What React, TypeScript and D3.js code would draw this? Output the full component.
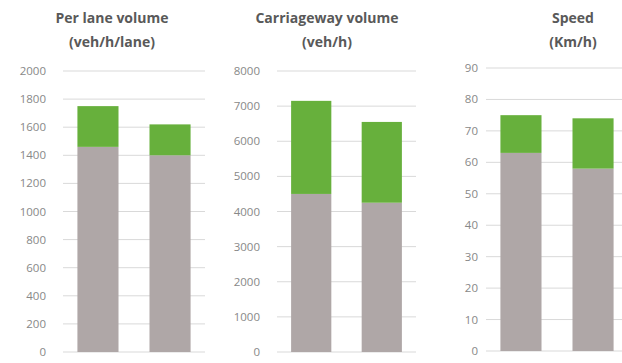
import React from "react";
import * as d3 from "d3";

const categories = ["A", "B"];
const laneBase = [1460, 1400];
const laneTop = [1750, 1620];
const cwBase = [4500, 4250];
const cwTop = [7150, 6550];
const speedBase = [63, 58];
const speedTop = [75, 74];
const laneTicks = [0, 200, 400, 600, 800, 1000, 1200, 1400, 1600, 1800, 2000];
const cwTicks = [0, 1000, 2000, 3000, 4000, 5000, 6000, 7000, 8000];
const speedTicks = [0, 10, 20, 30, 40, 50, 60, 70, 80, 90];
const titles = [
  ["Per lane volume", "(veh/h/lane)"],
  ["Carriageway volume", "(veh/h)"],
  ["Speed", "(Km/h)"],
];

const GRAY = "#afa7a7";
const GREEN = "#67b03c";

const panels = [
  { base: laneBase, top: laneTop, ticks: laneTicks, max: 2000, title: titles[0], labelX: 46, x0: 63, x1: 205, titleX: 112, y0: 71, y1: 352 },
  { base: cwBase, top: cwTop, ticks: cwTicks, max: 8000, title: titles[1], labelX: 260, x0: 277, x1: 416, titleX: 327, y0: 71, y1: 352 },
  { base: speedBase, top: speedTop, ticks: speedTicks, max: 90, title: titles[2], labelX: 478, x0: 486, x1: 628, titleX: 573, y0: 68, y1: 351 },
];

export default function App() {
  return (
    <svg width={622} height={363} style={{ position: "absolute", left: 0, top: 0, background: "#fff" }} fontFamily="'Open Sans', sans-serif">
      {panels.map((p, pi) => {
        const y = d3.scaleLinear().domain([0, p.max]).range([p.y1, p.y0]);
        const x = d3.scaleBand().domain(categories).range([p.x0, p.x1]).paddingInner(0.43).paddingOuter(0.2);
        return (
          <g key={pi}>
            <text x={p.titleX} y={23} textAnchor="middle" fontSize={14} fontWeight="bold" fill="#595959">{p.title[0]}</text>
            <text x={p.titleX} y={47} textAnchor="middle" fontSize={14} fontWeight="bold" fill="#595959">{p.title[1]}</text>
            {p.ticks.map((t) => (
              <g key={t}>
                <line x1={p.x0} x2={p.x1} y1={y(t)} y2={y(t)} stroke="#d9d9d9" strokeWidth={1} />
                <text x={p.labelX} y={y(t)} dy="0.35em" textAnchor="end" fontSize={11.5} fill="#888">{t}</text>
              </g>
            ))}
            {categories.map((c, i) => (
              <g key={c}>
                <rect x={x(c)} width={x.bandwidth()} y={y(p.base[i])} height={y(0) - y(p.base[i])} fill={GRAY} />
                <rect x={x(c)} width={x.bandwidth()} y={y(p.top[i])} height={y(p.base[i]) - y(p.top[i])} fill={GREEN} />
              </g>
            ))}
          </g>
        );
      })}
    </svg>
  );
}
